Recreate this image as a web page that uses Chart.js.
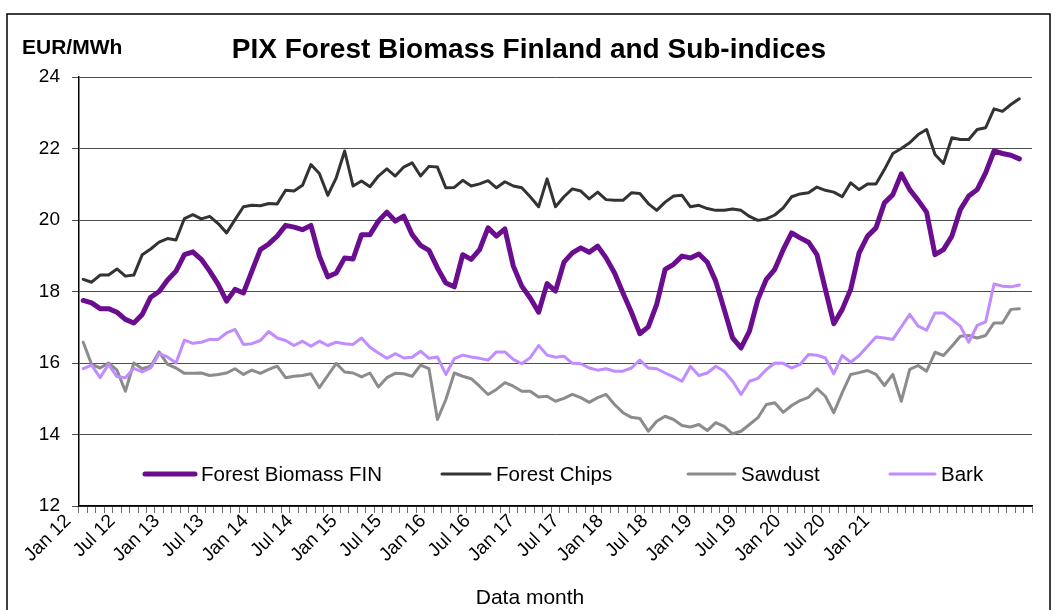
<!DOCTYPE html>
<html>
<head>
<meta charset="utf-8">
<script src="https://cdn.jsdelivr.net/npm/chart.js@4.4.1/dist/chart.umd.min.js"></script>
<style>
html,body{margin:0;padding:0;background:#fff;}
#wrap{position:relative;width:1057px;height:610px;}
canvas{display:block;}
</style>
</head>
<body>
<div id="wrap"><canvas id="c" width="1057" height="610"></canvas></div>
<script>
// ---- categories (months) ----
const months = [
 "Jan 12","Feb 12","Mar 12","Apr 12","May 12","Jun 12","Jul 12","Aug 12","Sep 12","Oct 12","Nov 12","Dec 12",
 "Jan 13","Feb 13","Mar 13","Apr 13","May 13","Jun 13","Jul 13","Aug 13","Sep 13","Oct 13","Nov 13","Dec 13",
 "Jan 14","Feb 14","Mar 14","Apr 14","May 14","Jun 14","Jul 14","Aug 14","Sep 14","Oct 14","Nov 14","Dec 14",
 "Jan 15","Feb 15","Mar 15","Apr 15","May 15","Jun 15","Jul 15","Aug 15","Sep 15","Oct 15","Nov 15","Dec 15",
 "Jan 16","Feb 16","Mar 16","Apr 16","May 16","Jun 16","Jul 16","Aug 16","Sep 16","Oct 16","Nov 16","Dec 16",
 "Jan 17","Feb 17","Mar 17","Apr 17","May 17","Jun 17","Jul 17","Aug 17","Sep 17","Oct 17","Nov 17","Dec 17",
 "Jan 18","Feb 18","Mar 18","Apr 18","May 18","Jun 18","Jul 18","Aug 18","Sep 18","Oct 18","Nov 18","Dec 18",
 "Jan 19","Feb 19","Mar 19","Apr 19","May 19","Jun 19","Jul 19","Aug 19","Sep 19","Oct 19","Nov 19","Dec 19",
 "Jan 20","Feb 20","Mar 20","Apr 20","May 20","Jun 20","Jul 20","Aug 20","Sep 20","Oct 20","Nov 20","Dec 20",
 "Jan 21","Feb 21","Mar 21","Apr 21","May 21"
];

// ---- x-axis tick labels as printed ----
const tickLabels = ["Jan 12","Jul 12","Jan 13","Jul 13","Jan 14","Jul 14","Jan 15","Jul 15","Jan 16","Jul 16",
 "Jan 17","Jul 17","Jan 18","Jul 18","Jan 19","Jul 19","Jan 20","Jul 20","Jan 21"];

// ---- y-axis ticks ----
const yTicks = [12, 14, 16, 18, 20, 22, 24];

// ---- series (EUR/MWh) ----
const forestBiomassFin = [
 17.75,17.68,17.52,17.52,17.42,17.22,17.12,17.36,17.84,18.00,
 18.32,18.57,19.03,19.11,18.90,18.57,18.20,17.73,18.06,17.96,
 18.57,19.17,19.33,19.55,19.85,19.80,19.73,19.85,18.99,18.41,
 18.52,18.94,18.91,19.59,19.59,19.97,20.22,19.97,20.11,19.59,
 19.29,19.15,18.66,18.24,18.13,19.03,18.90,19.17,19.78,19.55,
 19.75,18.71,18.15,17.82,17.42,18.22,18.01,18.82,19.08,19.22,
 19.10,19.27,18.94,18.52,17.96,17.42,16.82,17.01,17.64,18.62,
 18.76,18.99,18.94,19.05,18.82,18.29,17.50,16.70,16.42,16.89,
 17.78,18.34,18.62,19.17,19.64,19.50,19.38,19.03,18.06,17.10,
 17.50,18.06,19.08,19.55,19.78,20.48,20.71,21.29,20.85,20.55,
 20.22,19.03,19.17,19.55,20.29,20.67,20.85,21.32,21.93,21.86,
 21.81,21.71
];
const forestChips = [
 18.34,18.26,18.46,18.46,18.63,18.43,18.46,19.03,19.19,19.38,
 19.48,19.44,20.04,20.15,20.03,20.10,19.90,19.64,20.01,20.37,
 20.41,20.40,20.46,20.45,20.83,20.81,20.97,21.55,21.30,20.69,
 21.18,21.93,20.95,21.09,20.93,21.23,21.43,21.23,21.48,21.60,
 21.23,21.50,21.48,20.90,20.91,21.11,20.95,21.01,21.10,20.90,
 21.07,20.95,20.90,20.65,20.37,21.15,20.37,20.65,20.87,20.81,
 20.59,20.78,20.57,20.55,20.55,20.76,20.74,20.46,20.27,20.50,
 20.67,20.69,20.37,20.41,20.32,20.27,20.27,20.31,20.27,20.10,
 19.99,20.03,20.14,20.34,20.65,20.73,20.76,20.92,20.83,20.78,
 20.65,21.04,20.85,21.01,21.01,21.41,21.86,22.00,22.16,22.39,
 22.53,21.83,21.58,22.30,22.25,22.25,22.53,22.58,23.11,23.04,
 23.23,23.39
];
const sawdust = [
 16.58,15.96,15.86,16.00,15.80,15.21,16.00,15.84,15.91,16.31,
 15.96,15.86,15.71,15.71,15.72,15.65,15.68,15.72,15.84,15.68,
 15.80,15.71,15.82,15.91,15.59,15.63,15.65,15.70,15.31,15.65,
 15.99,15.75,15.72,15.61,15.72,15.33,15.59,15.71,15.70,15.63,
 15.94,15.84,14.42,14.98,15.72,15.63,15.56,15.35,15.12,15.26,
 15.45,15.35,15.21,15.21,15.05,15.07,14.93,15.01,15.12,15.03,
 14.90,15.03,15.12,14.84,14.61,14.48,14.45,14.09,14.37,14.51,
 14.42,14.25,14.21,14.28,14.11,14.33,14.23,14.02,14.09,14.28,
 14.47,14.84,14.89,14.62,14.81,14.95,15.04,15.28,15.07,14.61,
 15.17,15.68,15.73,15.79,15.68,15.37,15.68,14.93,15.82,15.93,
 15.77,16.30,16.21,16.47,16.75,16.77,16.70,16.77,17.12,17.12,
 17.50,17.52
];
const bark = [
 15.84,15.94,15.59,15.96,15.62,15.59,15.85,15.75,15.86,16.26,
 16.17,16.00,16.64,16.55,16.58,16.66,16.66,16.84,16.94,16.52,
 16.54,16.63,16.88,16.70,16.63,16.49,16.61,16.47,16.61,16.49,
 16.58,16.54,16.52,16.70,16.44,16.28,16.13,16.26,16.14,16.16,
 16.33,16.13,16.17,15.68,16.12,16.22,16.17,16.13,16.08,16.31,
 16.31,16.10,15.98,16.15,16.49,16.22,16.16,16.19,15.99,15.98,
 15.86,15.80,15.84,15.77,15.77,15.86,16.08,15.86,15.84,15.72,
 15.61,15.49,15.91,15.65,15.72,15.91,15.77,15.49,15.12,15.49,
 15.57,15.82,16.00,15.99,15.86,15.96,16.24,16.22,16.14,15.70,
 16.21,16.02,16.21,16.47,16.73,16.70,16.66,17.01,17.36,17.03,
 16.92,17.40,17.40,17.22,17.03,16.58,17.05,17.15,18.21,18.15,
 18.13,18.18
];

const seriesNames = ["Forest Biomass FIN", "Forest Chips", "Sawdust", "Bark"];
const FONT = "'Liberation Sans', Arial, Helvetica, sans-serif";

const decor = {
  id: 'decor',
  beforeDraw(chart) {
    const ctx = chart.ctx;
    ctx.save();
    ctx.fillStyle = '#ffffff';
    ctx.fillRect(0, 0, chart.width, chart.height);
    ctx.restore();
  },
  afterDraw(chart) {
    const ctx = chart.ctx;
    ctx.save();
    // outer frame
    ctx.strokeStyle = '#000';
    ctx.lineWidth = 1.5;
    ctx.strokeRect(7, 14, 1043, 620);
    // titles
    ctx.fillStyle = '#000';
    ctx.textBaseline = 'middle';
    ctx.textAlign = 'center';
    ctx.font = "bold 28px " + FONT;
    ctx.fillText("PIX Forest Biomass Finland and Sub-indices", 529, 50);
    ctx.textAlign = 'left';
    ctx.font = "bold 21px " + FONT;
    ctx.fillText("EUR/MWh", 22, 48);
    ctx.textAlign = 'center';
    ctx.font = "21px " + FONT;
    ctx.fillText("Data month", 530, 598);
    // legend
    const pos = [[145, 195], [442, 490], [688, 735], [890, 935]];
    const ly = 474;
    ctx.font = "20.5px " + FONT;
    ctx.textAlign = 'left';
    chart.data.datasets.forEach((ds, i) => {
      const [x0, x1] = pos[i];
      ctx.strokeStyle = ds.borderColor;
      ctx.lineWidth = ds.borderWidth;
      ctx.lineCap = 'round';
      ctx.beginPath();
      ctx.moveTo(x0, ly);
      ctx.lineTo(x1, ly);
      ctx.stroke();
      ctx.fillStyle = '#000';
      ctx.fillText(ds.label, x1 + 6, ly + 1);
    });
    ctx.restore();
  }
};

const mk = (label, data, color, width, order) => ({
  label, data, borderColor: color, backgroundColor: color, borderWidth: width,
  pointRadius: 0, pointHoverRadius: 0, tension: 0, fill: false,
  borderJoinStyle: 'round', borderCapStyle: 'round', order, xAxisID: 'x', yAxisID: 'y'
});

new Chart(document.getElementById('c'), {
  type: 'line',
  data: {
    labels: months,
    datasets: [
      mk(seriesNames[0], forestBiomassFin, '#6B0D8F', 5, 4),
      mk(seriesNames[1], forestChips, '#333333', 3, 3),
      mk(seriesNames[2], sawdust, '#8C8C8C', 3, 2),
      mk(seriesNames[3], bark, '#C08CFF', 3, 1)
    ]
  },
  options: {
    responsive: false,
    animation: false,
    devicePixelRatio: 1,
    layout: { padding: { top: 77, right: 25, left: 0, bottom: 0 } },
    plugins: {
      legend: { display: false },
      title: { display: false },
      tooltip: { enabled: false }
    },
    scales: {
      x: {
        type: 'category',
        position: 'bottom',
        weight: 0,
        offset: true,
        grid: { display: true, offset: true, drawOnChartArea: false, drawTicks: true, tickLength: 7, color: '#6e6e6e', lineWidth: 1 },
        border: { display: true, color: '#000', width: 1.5 },
        ticks: { display: false },
        afterFit: (s) => { s.height = 1; }
      },
      xl: {
        type: 'linear',
        position: 'bottom',
        weight: 1,
        min: 0.248,
        max: 21.72,
        grid: { display: false, drawTicks: false },
        border: { display: false },
        afterBuildTicks: (s) => { s.ticks = tickLabels.map((_, k) => ({ value: k })); },
        ticks: {
          autoSkip: false,
          minRotation: 45,
          maxRotation: 45,
          padding: 3,
          color: '#000',
          font: { family: FONT, size: 19 },
          callback: (v) => tickLabels[v] ?? ''
        },
        afterFit: (s) => { s.height = 103; }
      },
      y: {
        type: 'linear',
        min: 12,
        max: 24,
        afterBuildTicks: (s) => { s.ticks = yTicks.map(v => ({ value: v })); },
        grid: { color: '#4d4d4d', lineWidth: 1, drawTicks: true, tickLength: 7 },
        border: { display: true, color: '#000', width: 1.5 },
        ticks: { color: '#000', padding: 12, font: { family: FONT, size: 19 } },
        afterFit: (s) => { s.width = 79; }
      }
    }
  },
  plugins: [decor]
});
</script>
</body>
</html>
